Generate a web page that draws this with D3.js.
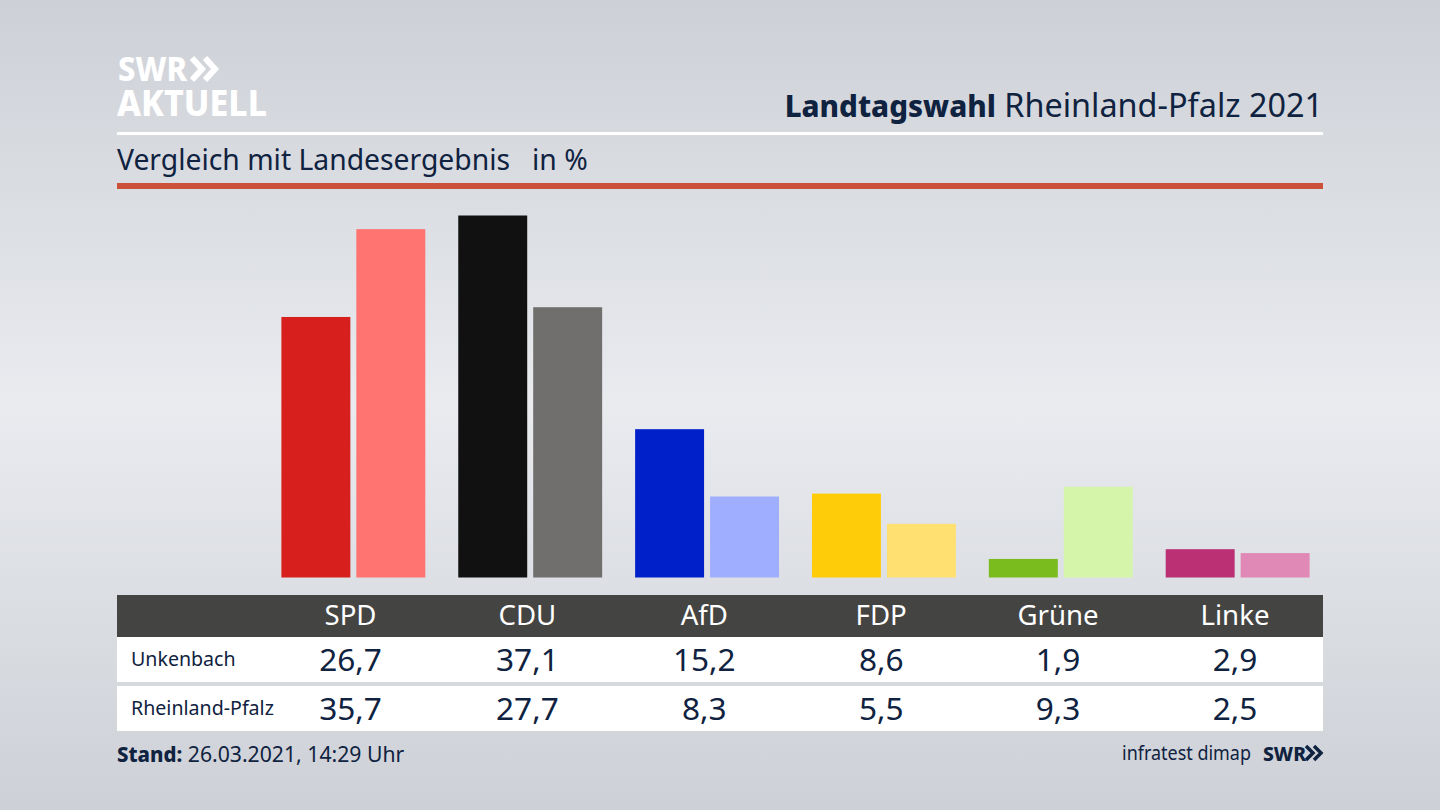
<!DOCTYPE html>
<html><head><meta charset="utf-8">
<script src="https://cdn.jsdelivr.net/npm/d3@7"></script>
<style>html,body{margin:0;padding:0;background:#dfe1e6;overflow:hidden}svg{display:block}text{font-family:"Noto Sans",sans-serif}</style>
</head><body><svg id="c" width="1440" height="810"></svg>
<script>
const parties = ["SPD","CDU","AfD","FDP","Grüne","Linke"];
const rowNames = ["Unkenbach","Rheinland-Pfalz"];
const unkenbach = [26.7,37.1,15.2,8.6,1.9,2.9];
const rheinlandPfalz = [35.7,27.7,8.3,5.5,9.3,2.5];
const colorsA = ["#d71f1d","#111111","#0021c9","#ffcc0a","#7abb1e","#bb2f74"];
const colorsB = ["#ff7370","#706f6d","#9faeff","#ffe071","#d5f6aa","#e088b6"];
const fmt = v => v.toFixed(1).replace(".",",");
const ink = "#0f2240";
const svg = d3.select("#c");
const defs = svg.append("defs");
const g = defs.append("linearGradient").attr("id","bg").attr("x1",0).attr("x2",0).attr("y1",0).attr("y2",1);
[[0,"#cdd0d6"],[0.5,"#e9ebef"],[1,"#cdd0d6"]].forEach(s=>g.append("stop").attr("offset",s[0]).attr("stop-color",s[1]));
svg.append("rect").attr("width",1440).attr("height",810).attr("fill","url(#bg)");

// header
const logo = svg.append("g").attr("fill","#fff");
logo.append("text").attr("x",118).attr("y",81).attr("font-size",34).attr("font-weight",800).attr("textLength",69).attr("lengthAdjust","spacingAndGlyphs").text("SWR");
logo.append("text").attr("x",117).attr("y",116).attr("font-size",36).attr("font-weight",800).attr("textLength",150).attr("lengthAdjust","spacingAndGlyphs").text("AKTUELL");
const chevron = (sel,x,y,h,w,sw,col)=>{ sel.append("path").attr("d",d3.line()([[x,y],[x+w,y+h/2],[x,y+h]])).attr("fill","none").attr("stroke",col).attr("stroke-width",sw); };
chevron(svg,192,58,22,10,6,"#fff"); chevron(svg,205,58,22,10,6,"#fff");

svg.append("rect").attr("x",117).attr("y",132).attr("width",1206).attr("height",3).attr("fill","#fff");
svg.append("rect").attr("x",117).attr("y",183).attr("width",1206).attr("height",6).attr("fill","#cb5138");
const title = svg.append("text").attr("x",1323).attr("y",117).attr("text-anchor","end").attr("font-size",32.4).attr("fill",ink);
title.append("tspan").attr("font-weight",800).attr("font-size",29.6).text("Landtagswahl");
title.append("tspan").text(" Rheinland-Pfalz 2021");
svg.append("text").attr("x",117).attr("y",170).attr("font-size",28.3).attr("fill",ink).text("Vergleich mit Landesergebnis");
svg.append("text").attr("x",532).attr("y",170).attr("font-size",28.3).attr("fill",ink).text("in %");

// bars
const y = d3.scaleLinear().domain([0,37.1]).range([577.5,215.5]);
const x0 = d3.scaleBand().domain(parties).range([281.4,1309.6]).paddingInner(33/177).paddingOuter(0);
const x1 = d3.scaleBand().domain([0,1]).range([0,x0.bandwidth()]).paddingInner(6/75).paddingOuter(0);
[[unkenbach,colorsA],[rheinlandPfalz,colorsB]].forEach(([vals,cols],k)=>{
  svg.append("g").selectAll("rect").data(parties).join("rect")
    .attr("x",d=>x0(d)+x1(k)).attr("width",x1.bandwidth())
    .attr("y",(d,i)=>y(vals[i])).attr("height",(d,i)=>y(0)-y(vals[i]))
    .attr("fill",(d,i)=>cols[i]);
});

// table
const cx = d3.scalePoint().domain(parties).range([350.5,1235]);
svg.append("rect").attr("x",117).attr("y",595).attr("width",1206).attr("height",42).attr("fill","#444443");
svg.append("g").selectAll("text").data(parties).join("text")
  .attr("x",d=>cx(d)).attr("y",625).attr("text-anchor","middle").attr("font-size",27.6).attr("fill","#fff").text(d=>d);
const rowTop=[637,686], rowH=[45,45], rowBase=[671,720], labelBase=[666,715];
[unkenbach,rheinlandPfalz].forEach((vals,r)=>{
  svg.append("rect").attr("x",117).attr("y",rowTop[r]).attr("width",1206).attr("height",rowH[r]).attr("fill","#fff");
  svg.append("text").attr("x",131).attr("y",labelBase[r]).attr("font-size",19.6).attr("fill",ink).text(rowNames[r]);
  svg.append("g").selectAll("text").data(parties).join("text")
    .attr("x",d=>cx(d)).attr("y",rowBase[r]).attr("text-anchor","middle").attr("font-size",31.6).attr("fill",ink)
    .text((d,i)=>fmt(vals[i]));
});

// footer
const st = svg.append("text").attr("x",117).attr("y",762).attr("font-size",21.2).attr("fill",ink);
st.append("tspan").attr("font-weight",800).attr("font-size",20.4).text("Stand:");
st.append("tspan").text(" 26.03.2021, 14:29 Uhr");
svg.append("text").attr("x",1122).attr("y",760).attr("font-size",20).attr("fill",ink).attr("textLength",129).attr("lengthAdjust","spacingAndGlyphs").text("infratest dimap");
svg.append("text").attr("x",1263).attr("y",761).attr("font-size",20).attr("font-weight",800).attr("fill",ink).attr("textLength",43).attr("lengthAdjust","spacingAndGlyphs").text("SWR");
chevron(svg,1306,746,14,7,3.5,ink); chevron(svg,1314,746,14,7,3.5,ink);
</script></body></html>
